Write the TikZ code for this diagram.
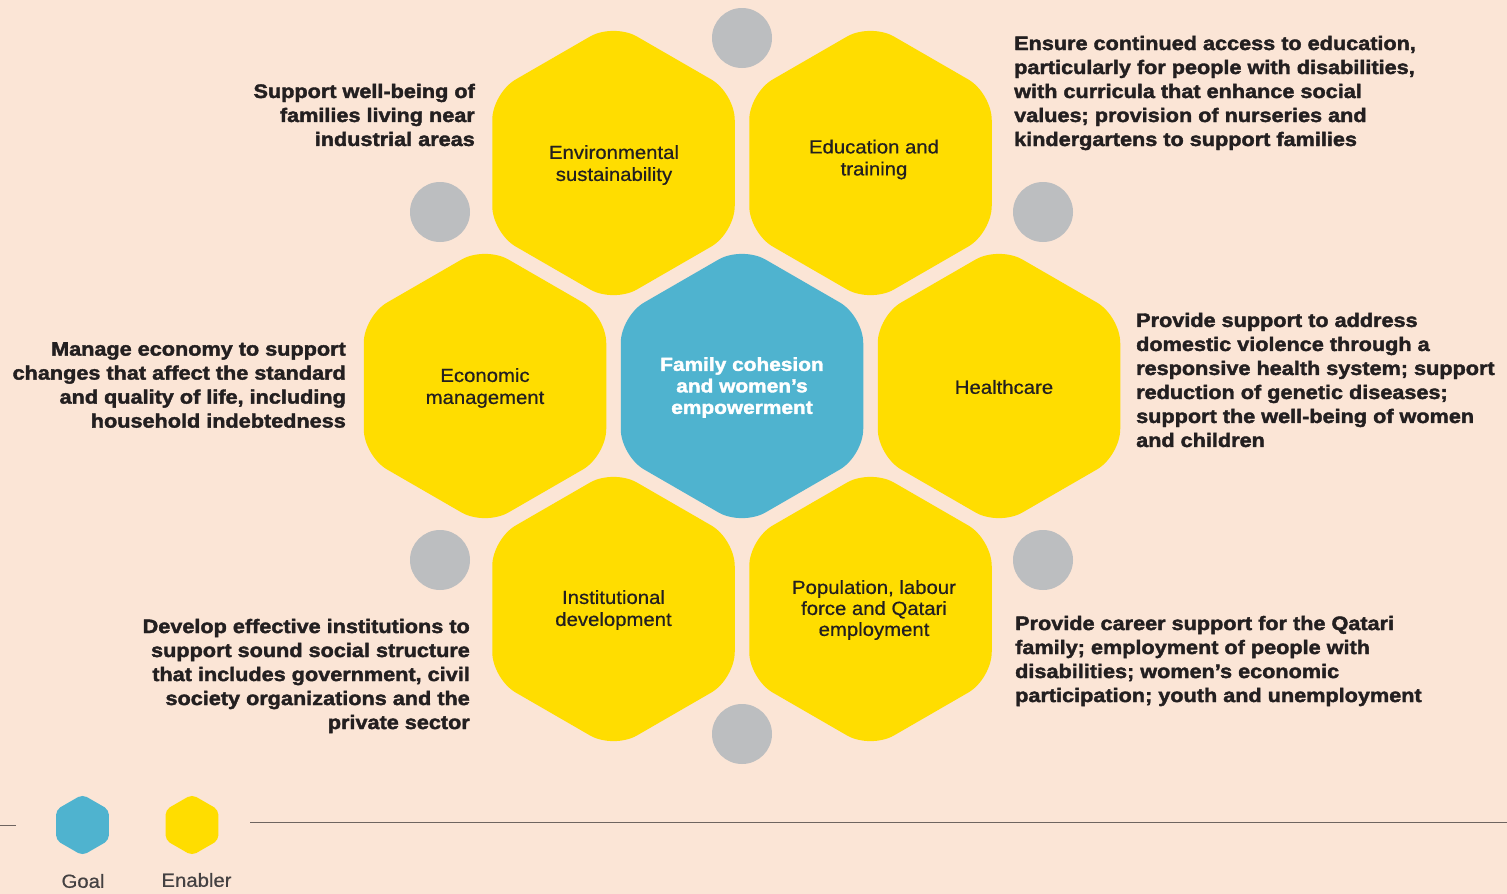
\documentclass[tikz,border=0pt]{standalone}
\usepackage{fontspec}
\setmainfont{Liberation Sans}
\newfontfamily\heavyfont{Liberation Sans}[FakeStretch=1.11, FakeBold=2]
\newfontfamily\hexlabelfont{Liberation Sans}[FakeStretch=1.07, FakeBold=0.6]
\usetikzlibrary{shapes.geometric}
\definecolor{bgpeach}{RGB}{251,229,214}
\definecolor{hexyellow}{RGB}{255,221,0}
\definecolor{hexblue}{RGB}{79,179,207}
\definecolor{dotgray}{RGB}{188,190,192}
\definecolor{inkdark}{RGB}{35,31,32}
\definecolor{rulegray}{RGB}{110,100,96}
\begin{document}
\begin{tikzpicture}[x=1pt,y=-1pt,
  hexbase/.style={regular polygon, regular polygon sides=6, shape border rotate=30,
    minimum size=280pt, inner sep=0pt, rounded corners=27pt},
  enabler/.style={hexbase, fill=hexyellow},
  goal/.style={hexbase, fill=hexblue},
  hexlabel/.style={align=center, text=inkdark, inner sep=0pt,
    font=\hexlabelfont\fontsize{19}{22}\selectfont},
  goallabel/.style={align=center, text=white, inner sep=0pt,
    font=\heavyfont\bfseries\fontsize{18.8}{21.5}\selectfont},
  dot/.style={circle, fill=dotgray, minimum size=60pt, inner sep=0pt},
  desc/.style={font=\heavyfont\bfseries\fontsize{19.5}{24}\selectfont, text=inkdark, inner sep=0pt},
  descL/.style={desc, anchor=west, align=left},
  descR/.style={desc, anchor=east, align=right},
  minihex/.style={regular polygon, regular polygon sides=6, shape border rotate=30,
    minimum size=61pt, inner sep=0pt, rounded corners=5pt},
  legendtext/.style={font=\hexlabelfont\fontsize{19}{22}\selectfont, text=inkdark!85, inner sep=0pt},
  rule/.style={draw=rulegray, line width=1.6pt}
]
\fill[bgpeach] (0,0) rectangle (1507,894);
\useasboundingbox (0,0) rectangle (1507,894);

% gray dots
\node[dot] (d1) at (742,38) {};
\node[dot] (d2) at (440,212) {};
\node[dot] (d3) at (1043,212) {};
\node[dot] (d4) at (440,560) {};
\node[dot] (d5) at (1043,560) {};
\node[dot] (d6) at (742,734) {};

% hexagons
\node[goal] (goalhex) at (742,386) {};
\node[enabler] (env) at (613.5,163) {};
\node[enabler] (edu) at (870.5,163) {};
\node[enabler] (econ) at (485,386) {};
\node[enabler] (health) at (999,386) {};
\node[enabler] (inst) at (613.5,609) {};
\node[enabler] (pop) at (870.5,609) {};

% hexagon labels
\node[goallabel] (goallab) at (742,387.5) {Family cohesion\\and women’s\\empowerment};
\node[hexlabel] (envlab) at (614,165) {Environmental\\sustainability};
\node[hexlabel] (edulab) at (874,159.5) {Education and\\training};
\node[hexlabel] (econlab) at (485,388) {Economic\\management};
\node[hexlabel] (healthlab) at (1004,387) {Healthcare};
\node[hexlabel] (instlab) at (613.5,610) {Institutional\\development};
\node[hexlabel, font=\hexlabelfont\fontsize{19}{21}\selectfont] (poplab) at (874,610) {Population, labour\\force and Qatari\\employment};

% descriptions
\node[descR] (envdesc) at (475,115) {Support well-being of\\families living near\\industrial areas};
\node[descL] (edudesc) at (1014,93) {Ensure continued access to education,\\particularly for people with disabilities,\\with curricula that enhance social\\values; provision of nurseries and\\kindergartens to support families};
\node[descR] (econdesc) at (346,385) {Manage economy to support\\changes that affect the standard\\and quality of life, including\\household indebtedness};
\node[descL] (healthdesc) at (1136,380) {Provide support to address\\domestic violence through a\\responsive health system; support\\reduction of genetic diseases;\\support the well-being of women\\and children};
\node[descR] (instdesc) at (470,676) {Develop effective institutions to\\support sound social structure\\that includes government, civil\\society organizations and the\\private sector};
\node[descL] (popdesc) at (1015,661) {Provide career support for the Qatari\\family; employment of people with\\disabilities; women’s economic\\participation; youth and unemployment};

% legend
\coordinate (la) at (0,825.5);
\coordinate (lb) at (16,825.5);
\coordinate (ra) at (250,822.5);
\coordinate (rb) at (1507,822.5);
\draw[rule] (la) -- (lb);
\draw[rule] (ra) -- (rb);
\node[minihex, fill=hexblue] (goalkey) at (82.5,825) {};
\node[minihex, fill=hexyellow] (enablerkey) at (192,825) {};
\node[legendtext] (goaltext) at (83,881) {Goal};
\node[legendtext] (enablertext) at (196.5,880) {Enabler};
\end{tikzpicture}
\end{document}
